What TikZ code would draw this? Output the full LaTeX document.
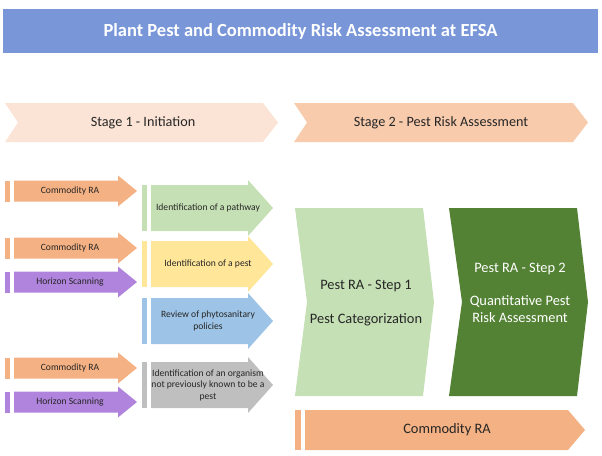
\documentclass[tikz,border=0pt]{standalone}
\usepackage{fontspec}
\setmainfont{Carlito}
\definecolor{titleb}{HTML}{7896D8}
\definecolor{st1}{HTML}{FBE4D5}
\definecolor{st2}{HTML}{F8CBAD}
\definecolor{comm}{HTML}{F4B183}
\definecolor{hor}{HTML}{B084DC}
\definecolor{gr}{HTML}{C5E0B4}
\definecolor{ye}{HTML}{FFE699}
\definecolor{bl}{HTML}{9DC3E6}
\definecolor{gy}{HTML}{BFBFBF}
\definecolor{dg}{HTML}{548235}
\begin{document}
\begin{tikzpicture}[x=1pt,y=-1pt,
  lbl/.style={font=\fontsize{9.6}{11.5}\selectfont, text=black!85, align=center}]
\useasboundingbox (0,0) rectangle (602,455);
% title
\fill[titleb] (3,9) rectangle (598,53);
\node[font=\bfseries\fontsize{18.5}{22}\selectfont, text=white] (title) at (300.5,31) {Plant Pest and Commodity Risk Assessment at EFSA};
% stages
\fill[st1] (5,103) -- (263,103) -- (278,122.5) -- (263,142) -- (5,142) -- (18,122.5) -- cycle;
\node[font=\fontsize{14.2}{17}\selectfont, text=black!85] (s1) at (143,122.5) {Stage 1 - Initiation};
\fill[st2] (294,103) -- (573,103) -- (588,122.5) -- (573,142) -- (294,142) -- (307,122.5) -- cycle;
\node[font=\fontsize{14.2}{17}\selectfont, text=black!85] (s2) at (441,122.5) {Stage 2 - Pest Risk Assessment};
% small arrows
\foreach \y/\c/\t [count=\i] in {191/comm/Commodity RA, 248/comm/Commodity RA, 282/hor/Horizon Scanning, 368/comm/Commodity RA, 402/hor/Horizon Scanning}{
  \fill[\c] (5,\y-10.5) rectangle (10,\y+10.5);
  \fill[\c] (14,\y-10.5) -- (118,\y-10.5) -- (118,\y-15.5) -- (137,\y) -- (118,\y+15.5) -- (118,\y+10.5) -- (14,\y+10.5) -- cycle;
  \node[lbl] (a\i) at (70,\y) {\t};
}
% mid arrows
\foreach \y/\c/\t [count=\i] in {208/gr/Identification of a pathway, 264/ye/Identification of a pest, 321/bl/{Review of phytosanitary\\policies}, 385/gy/{Identification of an organism\\not previously known to be a\\pest}}{
  \fill[\c] (142,\y-23) rectangle (147,\y+23);
  \fill[\c] (151,\y-23) -- (248,\y-23) -- (248,\y-28) -- (273,\y) -- (248,\y+28) -- (248,\y+23) -- (151,\y+23) -- cycle;
  \node[lbl] (m\i) at (208,\y) {\t};
}
% big
\fill[gr] (295,208) -- (423,208) -- (434,302) -- (423,396) -- (295,396) -- (307,302) -- cycle;
\node[font=\fontsize{14.4}{17}\selectfont, align=center, text=black!85] (p1) at (366,303) {Pest RA - Step 1\\[17pt]Pest Categorization};
\fill[dg] (449,208) -- (577,208) -- (588,302) -- (577,396) -- (449,396) -- (462,302) -- cycle;
\node[font=\fontsize{14.4}{17}\selectfont, align=center, text=white] (p2) at (520,293) {Pest RA - Step 2\\[16pt]Quantitative Pest\\Risk Assessment};
% bottom commodity
\fill[comm] (295,410) rectangle (301,450);
\fill[comm] (305,410) -- (568,410) -- (585,430) -- (568,450) -- (305,450) -- cycle;
\node[font=\fontsize{14.4}{17}\selectfont, text=black!85] (bc) at (447,430) {Commodity RA};
\end{tikzpicture}
\end{document}
